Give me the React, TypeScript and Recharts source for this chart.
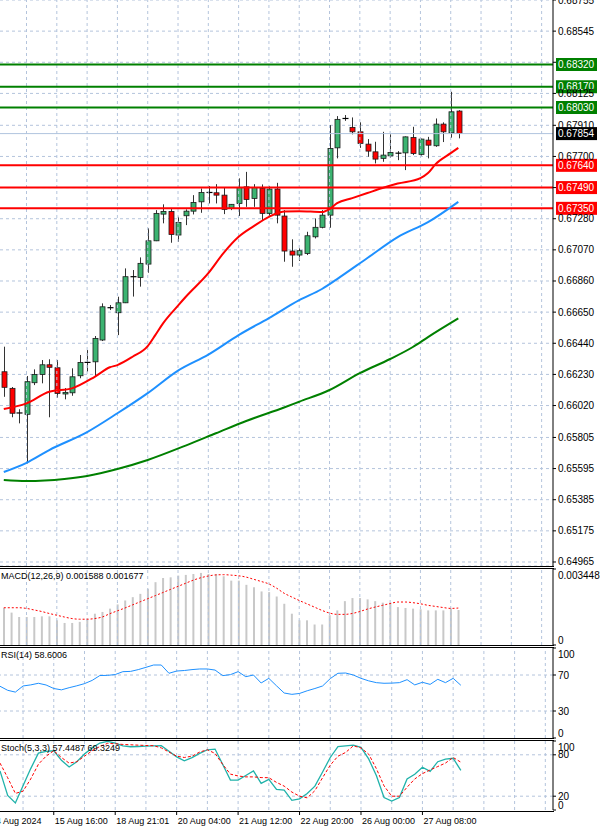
import React from "react";
import {
  ComposedChart,
  Bar,
  Line,
  XAxis,
  YAxis,
  CartesianGrid,
  ReferenceLine,
} from "recharts";

const FONT = '"Liberation Sans", Arial, sans-serif';
const GRID = "#b4c4dc";
const SLOTS = 73; // 61 bars + empty room on the right like MT4's chart shift

// H4 bars, 14 Aug 12:00 .. 28 Aug 04:00
const opens = [
  0.66248, 0.66136, 0.6597, 0.65961, 0.66174, 0.6623, 0.66295, 0.66275, 0.66098, 0.66106,
  0.66221, 0.66311, 0.66315, 0.66462, 0.6668, 0.66646, 0.66713, 0.66889, 0.66884, 0.66974,
  0.67131, 0.67311, 0.67329, 0.6717, 0.673, 0.67331, 0.67394, 0.67457, 0.67455, 0.67439,
  0.6735, 0.67383, 0.67495, 0.67417, 0.67484, 0.67316, 0.6748, 0.67298, 0.67062, 0.67035,
  0.67046, 0.67158, 0.67222, 0.67304, 0.67758, 0.67956, 0.67896, 0.67866, 0.67783, 0.67731,
  0.67687, 0.67704, 0.67722, 0.67724, 0.67828, 0.67714, 0.6781, 0.67772, 0.67918, 0.67859, 0.68006,
];
const highs = [
  0.66417, 0.66145, 0.65995, 0.66219, 0.66264, 0.66327, 0.66332, 0.66327, 0.66138, 0.66271,
  0.66361, 0.66394, 0.66489, 0.66709, 0.66698, 0.66754, 0.66945, 0.66934, 0.67019, 0.67215,
  0.67338, 0.67377, 0.67345, 0.67293, 0.67343, 0.67439, 0.67484, 0.675, 0.67513, 0.67491,
  0.67379, 0.67552, 0.67596, 0.67513, 0.67511, 0.675, 0.67522, 0.67338, 0.67141, 0.6708,
  0.67192, 0.67282, 0.67338, 0.67911, 0.67972, 0.67979, 0.67963, 0.6793, 0.67817, 0.67799,
  0.67866, 0.67849, 0.67736, 0.67835, 0.679, 0.6782, 0.67832, 0.67956, 0.6793, 0.68136, 0.68012,
];
const lows = [
  0.66079, 0.65941, 0.659, 0.6563, 0.66158, 0.6617, 0.65941, 0.66073, 0.66062, 0.66086,
  0.66204, 0.66248, 0.66214, 0.66455, 0.66664, 0.66495, 0.66711, 0.66755, 0.66822, 0.66916,
  0.67129, 0.67249, 0.67118, 0.67124, 0.67237, 0.67309, 0.6732, 0.67383, 0.67383, 0.67311,
  0.67338, 0.67298, 0.6736, 0.6736, 0.67271, 0.67293, 0.67249, 0.6699, 0.66956, 0.66996,
  0.67035, 0.67147, 0.67215, 0.67219, 0.67687, 0.6794, 0.67849, 0.67758, 0.67698, 0.67653,
  0.67664, 0.67691, 0.67675, 0.67608, 0.67709, 0.67706, 0.67687, 0.67765, 0.67797, 0.67826, 0.67822,
];
const closes = [
  0.66143, 0.65968, 0.65972, 0.66181, 0.6623, 0.66295, 0.66278, 0.66102, 0.66109, 0.66214,
  0.66311, 0.66313, 0.66473, 0.66686, 0.66682, 0.66713, 0.66889, 0.66891, 0.66979, 0.67131,
  0.67316, 0.67329, 0.67174, 0.67255, 0.67331, 0.6739, 0.67457, 0.67459, 0.67439, 0.67343,
  0.67377, 0.67491, 0.6741, 0.67491, 0.67316, 0.6748, 0.67304, 0.67062, 0.67035, 0.67064,
  0.67165, 0.67222, 0.67304, 0.67754, 0.6795, 0.67958, 0.67866, 0.67788, 0.67736, 0.67682,
  0.67709, 0.67727, 0.67725, 0.67832, 0.6772, 0.67817, 0.67776, 0.67918, 0.67866, 0.68001, 0.67854,
];

// moving averages at some bars: [bar, price]
const maRed: [number, number][] = [
  [0, 0.65997], [3, 0.66035], [6, 0.66113], [9, 0.66136], [12, 0.66214], [14, 0.66278],
  [15, 0.66293], [17, 0.66349], [19, 0.66421], [20, 0.66495], [21, 0.66573], [23, 0.66694],
  [24, 0.66752], [27, 0.66913], [29, 0.67048], [31, 0.67158], [33, 0.6723], [35, 0.67293],
  [37, 0.67328], [39, 0.67331], [42, 0.67325], [43, 0.67345], [44, 0.67385], [46, 0.67419],
  [48, 0.67453], [50, 0.67487], [52, 0.67517], [55, 0.67554], [56, 0.67588], [57, 0.67648],
  [59, 0.67722], [60, 0.67758],
];
const maBlue: [number, number][] = [
  [0, 0.65572], [3, 0.65634], [6, 0.6572], [11, 0.65841], [15, 0.65968], [19, 0.66104],
  [23, 0.66256], [27, 0.66364], [31, 0.66495], [35, 0.6661], [39, 0.66731], [42, 0.66806],
  [44, 0.66873], [48, 0.67015], [52, 0.67156], [56, 0.67257], [60, 0.67394],
];
const maGreen: [number, number][] = [
  [0, 0.65518], [3, 0.65511], [8, 0.65525], [11, 0.65545], [15, 0.65592], [19, 0.65653],
  [24, 0.6575], [28, 0.65833], [32, 0.65916], [37, 0.66007], [39, 0.66046], [43, 0.66125],
  [47, 0.66239], [51, 0.66334], [54, 0.66415], [56, 0.66482], [60, 0.66608],
];

const macdHist = [
  0.00168, 0.00147, 0.00127, 0.00127, 0.00127, 0.0013, 0.0013, 0.00112, 0.001, 0.001,
  0.00105, 0.00115, 0.00142, 0.0015, 0.00165, 0.00184, 0.00202, 0.00217, 0.00232, 0.00255,
  0.00285, 0.00304, 0.00307, 0.00315, 0.00318, 0.00322, 0.00327, 0.00322, 0.00322, 0.00312,
  0.00292, 0.00292, 0.00273, 0.00262, 0.00243, 0.0024, 0.0022, 0.00187, 0.00142, 0.00112,
  0.00112, 0.00093, 0.00093, 0.00135, 0.00157, 0.00199, 0.00213, 0.00213, 0.00207, 0.00199,
  0.00192, 0.00192, 0.00172, 0.00168, 0.00165, 0.00162, 0.00157, 0.00157, 0.00157, 0.00165, 0.001588,
];
const macdSignal = [
  0.00169, 0.00169, 0.00169, 0.00166, 0.00159, 0.00152, 0.00143, 0.00135, 0.00127, 0.0012,
  0.00117, 0.00117, 0.0012, 0.00127, 0.00142, 0.00155, 0.00168, 0.00182, 0.00196, 0.0021,
  0.00224, 0.00238, 0.00252, 0.00266, 0.0028, 0.00294, 0.00305, 0.00313, 0.00318, 0.00319,
  0.00317, 0.00314, 0.00308, 0.00298, 0.00288, 0.00277, 0.00258, 0.00235, 0.00218, 0.00202,
  0.00187, 0.00172, 0.00157, 0.00145, 0.00139, 0.00139, 0.00143, 0.00152, 0.00163, 0.00172,
  0.0018, 0.00188, 0.00195, 0.00195, 0.00192, 0.00187, 0.0018, 0.00175, 0.0017, 0.00166, 0.001677,
];
const rsi14 = [
  57.5, 53, 51, 57.8, 59, 60.8, 58.9, 55, 53.5, 55.9,
  58, 60.4, 64, 69.4, 69.6, 70.5, 73.7, 74, 76, 78.5,
  81.1, 81.1, 71.9, 74.4, 75, 76, 76.7, 76.7, 75.5, 69.3,
  70.4, 73.7, 68.1, 70, 61.1, 66.3, 58, 50, 48.5, 49.5,
  52.5, 55, 57.8, 66, 71.9, 72.2, 70, 66.3, 63.5, 61.5,
  60.8, 61, 61.5, 64.8, 59, 61.9, 59.6, 65.2, 61.5, 66.3, 58.6006,
];
const stochK = [
  56.6, 21, 10.2, 35, 60, 82.4, 85, 85.9, 72, 62.4,
  70, 81, 90, 97, 99.5, 97, 93, 91.7, 92, 92.5,
  93, 93.2, 85, 77, 71.2, 76, 82, 87.3, 88.3, 66,
  43.4, 43.4, 50, 56.6, 38.5, 44.4, 29.8, 28.8, 14.1, 16.1,
  23.9, 34.6, 55, 76.1, 91.7, 93, 94.1, 90.7, 74, 50,
  18, 13, 18, 45, 51.7, 62, 56, 70, 73.7, 75, 57.4487,
];
const stochD = [
  68, 46.8, 24, 27.3, 45, 66.3, 78, 85.9, 76, 68,
  70, 78, 85.9, 92, 96.6, 96, 95, 94.5, 94, 93.5,
  93.2, 90, 84, 78, 76.1, 78, 84, 87.3, 82, 66,
  52, 49.3, 48, 48, 47, 46.8, 40, 34.6, 26, 20,
  17.6, 28, 46.8, 65, 78, 83.4, 93, 90, 81, 60,
  35, 20, 20, 33, 45, 52.7, 58, 63, 68, 76.1, 69.3249,
];

const priceTicks = [
  0.68755, 0.68545, 0.68335, 0.68125, 0.6791, 0.677, 0.6749, 0.6728, 0.6707, 0.6686,
  0.6665, 0.6644, 0.6623, 0.6602, 0.65805, 0.65595, 0.65385, 0.65175, 0.64965,
];
const coveredTicks = [0.68335, 0.6749];
const greenLevels = [0.6832, 0.6817, 0.6803];
const redLevels = [0.6764, 0.6749, 0.6735];
const lastPrice = 0.67854;

const gridBars = [3, 7, 11, 15, 19, 23, 27, 31, 35, 39, 43, 47, 51, 55, 59, 63, 67, 71];
const dateLabels: [number, string][] = [
  [0, "14 Aug 2024"],
  [7, "15 Aug 16:00"],
  [15, "18 Aug 21:01"],
  [23, "20 Aug 04:00"],
  [31, "21 Aug 12:00"],
  [39, "22 Aug 20:00"],
  [47, "26 Aug 00:00"],
  [55, "27 Aug 08:00"],
];

const redMap = new Map(maRed);
const blueMap = new Map(maBlue);
const greenMap = new Map(maGreen);

const rows = Array.from({ length: SLOTS }, (_, i) => {
  const has = i < opens.length;
  return {
    i,
    o: has ? opens[i] : undefined,
    h: has ? highs[i] : undefined,
    l: has ? lows[i] : undefined,
    c: has ? closes[i] : undefined,
    range: has ? [lows[i], highs[i]] : undefined,
    maR: redMap.get(i) ?? null,
    maB: blueMap.get(i) ?? null,
    maG: greenMap.get(i) ?? null,
    hist: has ? macdHist[i] : undefined,
    sig: has ? macdSignal[i] : undefined,
    rsi: has ? rsi14[i] : undefined,
    k: has ? stochK[i] : undefined,
    d: has ? stochD[i] : undefined,
  };
});

const Candle = (props: any) => {
  const { x, y, width, height, payload } = props;
  if (!payload || payload.o == null) return null;
  const top = Math.min(y, y + height);
  const bot = Math.max(y, y + height);
  const span = payload.h - payload.l;
  const py = (v: number) => (span > 0 ? top + ((payload.h - v) / span) * (bot - top) : top);
  const cx = Math.round(x + width / 2) + 0.5;
  const yo = py(payload.o);
  const yc = py(payload.c);
  const up = payload.c >= payload.o;
  const doji = Math.abs(yc - yo) < 1.5;
  return (
    <g>
      <line x1={cx} x2={cx} y1={top} y2={bot} stroke="#333" strokeWidth={1} />
      {doji ? (
        <line x1={cx - 3} x2={cx + 3} y1={yo} y2={yo} stroke="#000" strokeWidth={1.2} />
      ) : (
        <rect
          x={cx - 2.5}
          y={Math.min(yo, yc)}
          width={5}
          height={Math.abs(yc - yo)}
          fill={up ? "#3cb371" : "#ff0000"}
          stroke="#1a1a1a"
          strokeWidth={0.8}
        />
      )}
    </g>
  );
};

const PriceTick = (props: any) => {
  const { x, y, payload } = props;
  if (coveredTicks.includes(payload.value)) return <g />;
  return (
    <text x={x} y={y} dy="0.35em" textAnchor="start" fontSize={10} fontFamily={FONT} fill="#000">
      {payload.value.toFixed(5)}
    </text>
  );
};

const edgeTick = (max: number, fmt: (v: number) => string) => (props: any) => {
  const { x, y, payload } = props;
  const v = payload.value;
  const shift = v === max ? 6 : v === 0 ? -5 : 0;
  return (
    <text x={x} y={y + shift} dy="0.35em" textAnchor="start" fontSize={10} fontFamily={FONT} fill="#000">
      {fmt(v)}
    </text>
  );
};

const levelTag = (text: string, bg: string) => (props: any) => {
  const vb = props.viewBox || {};
  const x = (vb.x ?? 0) + (vb.width ?? 0) + 3;
  const y = vb.y ?? 0;
  return (
    <g>
      <rect x={x} y={y - 6.5} width={41} height={13} fill={bg} />
      <text x={x + 2} y={y} dy="0.35em" fill="#fff" fontSize={10} fontFamily={FONT}>
        {text}
      </text>
    </g>
  );
};

const DateTick = (props: any) => {
  const { x, y, payload } = props;
  const found = dateLabels.find((d) => d[0] === payload.value);
  if (!found) return <g />;
  const first = found[0] === dateLabels[0][0];
  return (
    <g>
      {!first && <line x1={x} x2={x} y1={y + 1} y2={y + 5} stroke="#000" />}
      <text x={first ? x - 9 : x + 1} y={y + 14} fontSize={9} fontFamily={FONT} fill="#000">
        {found[1]}
      </text>
    </g>
  );
};

const vGrid = () =>
  gridBars.map((i) => (
    <ReferenceLine key={`v${i}`} x={i} stroke={GRID} strokeDasharray="3 3" />
  ));

const frame = (h: number) => (
  <div
    style={{
      position: "absolute",
      top: 0,
      left: 0,
      width: 554,
      height: h,
      borderTop: "1px solid #000",
      borderBottom: "1px solid #000",
      boxSizing: "border-box",
      pointerEvents: "none",
    }}
  />
);

const title = (text: string) => (
  <div
    style={{
      position: "absolute",
      left: 1,
      top: 2,
      fontFamily: FONT,
      fontSize: 9,
      lineHeight: "12px",
      whiteSpace: "nowrap",
      color: "#000",
    }}
  >
    {text}
  </div>
);

const axisProps = {
  orientation: "right" as const,
  width: 47,
  type: "number" as const,
  allowDataOverflow: true,
  interval: 0,
  tickSize: 3,
  axisLine: { stroke: "#000" },
  tickLine: { stroke: "#000" },
};

const lineProps = {
  dot: false,
  activeDot: false,
  isAnimationActive: false,
};

export default function App() {
  return (
    <div style={{ position: "absolute", top: 0, left: 0, width: 600, height: 829, background: "#fff", overflow: "hidden" }}>
      {/* price window */}
      <div style={{ position: "absolute", top: 0, left: 0 }}>
        <ComposedChart width={600} height={567} data={rows} margin={{ top: 0, right: 0, bottom: 1, left: 0 }}>
          <CartesianGrid vertical={false} stroke={GRID} strokeDasharray="3 3" />
          {vGrid()}
          <XAxis dataKey="i" type="category" hide />
          <YAxis {...axisProps} domain={[0.64938, 0.68755]} ticks={priceTicks} tick={PriceTick} />
          <ReferenceLine y={lastPrice} stroke="#b0c4de" label={levelTag(lastPrice.toFixed(5), "#000")} />
          {greenLevels.map((v) => (
            <ReferenceLine key={`gl${v}`} y={v} stroke="#008000" strokeWidth={2} label={levelTag(v.toFixed(5), "#008000")} />
          ))}
          {redLevels.map((v) => (
            <ReferenceLine key={`rl${v}`} y={v} stroke="#ff0000" strokeWidth={2} label={levelTag(v.toFixed(5), "#ff0000")} />
          ))}
          <Line dataKey="maG" type="monotone" stroke="#008000" strokeWidth={2} connectNulls {...lineProps} />
          <Line dataKey="maB" type="monotone" stroke="#1e90ff" strokeWidth={2} connectNulls {...lineProps} />
          <Line dataKey="maR" type="monotone" stroke="#ff0000" strokeWidth={2} connectNulls {...lineProps} />
          <Bar dataKey="range" barSize={6} shape={Candle} isAnimationActive={false} />
        </ComposedChart>
        <div style={{ position: "absolute", top: 566, left: 0, width: 554, height: 1, background: "#000" }} />
      </div>

      {/* MACD */}
      <div style={{ position: "absolute", top: 568, left: 0 }}>
        <ComposedChart width={600} height={78} data={rows} margin={{ top: 1, right: 0, bottom: 1, left: 0 }}>
          {vGrid()}
          <XAxis dataKey="i" type="category" hide />
          <YAxis
            {...axisProps}
            domain={[0, 0.003448]}
            ticks={[0, 0.003448]}
            tick={edgeTick(0.003448, (v) => (v === 0 ? "0" : v.toFixed(6)))}
          />
          <Bar dataKey="hist" barSize={2} fill="#c8c8c8" isAnimationActive={false} />
          <Line dataKey="sig" type="monotone" stroke="#ff0000" strokeWidth={1} strokeDasharray="2 2" {...lineProps} />
        </ComposedChart>
        {frame(78)}
        {title("MACD(12,26,9) 0.001588 0.001677")}
      </div>

      {/* RSI */}
      <div style={{ position: "absolute", top: 647, left: 0 }}>
        <ComposedChart width={600} height={92} data={rows} margin={{ top: 1, right: 0, bottom: 1, left: 0 }}>
          {vGrid()}
          <ReferenceLine y={70} stroke={GRID} strokeDasharray="3 3" />
          <ReferenceLine y={30} stroke={GRID} strokeDasharray="3 3" />
          <XAxis dataKey="i" type="category" hide />
          <YAxis {...axisProps} domain={[0, 100]} ticks={[0, 30, 70, 100]} tick={edgeTick(100, (v) => String(v))} />
          <Line dataKey="rsi" type="linear" stroke="#1e90ff" strokeWidth={1} {...lineProps} />
        </ComposedChart>
        {frame(92)}
        {title("RSI(14) 58.6006")}
      </div>

      {/* Stochastic + time axis */}
      <div style={{ position: "absolute", top: 740, left: 0 }}>
        <ComposedChart width={600} height={89} data={rows} margin={{ top: 1, right: 0, bottom: 0, left: 0 }}>
          {vGrid()}
          <ReferenceLine y={80} stroke={GRID} strokeDasharray="3 3" />
          <ReferenceLine y={20} stroke={GRID} strokeDasharray="3 3" />
          <XAxis
            dataKey="i"
            type="category"
            height={19}
            interval={0}
            tickSize={0}
            tickMargin={0}
            axisLine={false}
            tickLine={false}
            tick={DateTick}
          />
          <YAxis {...axisProps} domain={[0, 100]} ticks={[0, 20, 80, 100]} tick={edgeTick(100, (v) => String(v))} />
          <Line dataKey="k" type="linear" stroke="#20b2aa" strokeWidth={1.3} {...lineProps} />
          <Line dataKey="d" type="linear" stroke="#ff0000" strokeWidth={1} strokeDasharray="3 2" {...lineProps} />
        </ComposedChart>
        {frame(72)}
        {title("Stoch(5,3,3) 57.4487 69.3249")}
      </div>
    </div>
  );
}
